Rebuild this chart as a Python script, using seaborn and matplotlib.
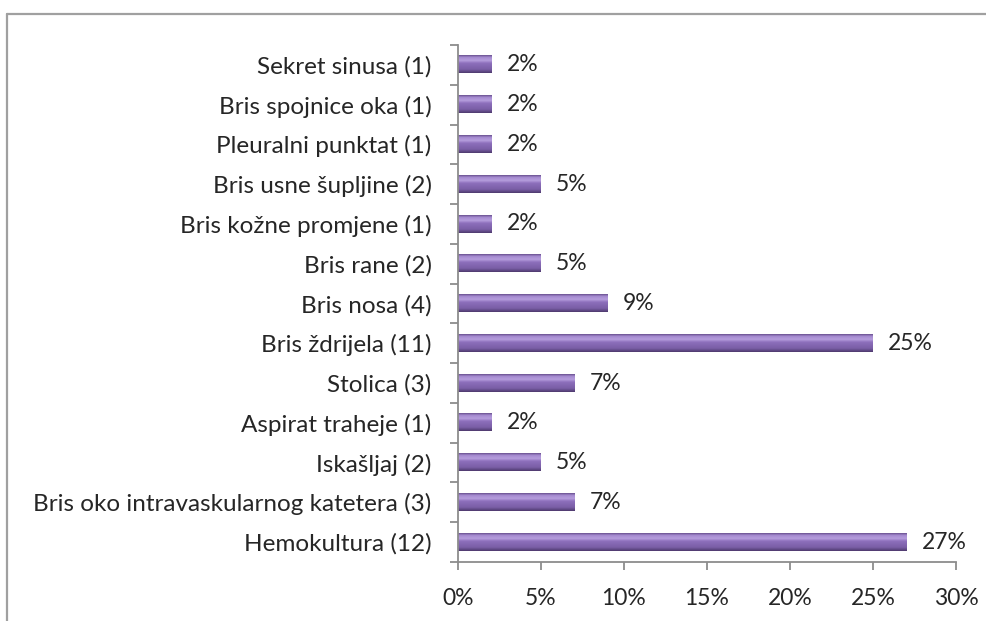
import matplotlib
matplotlib.use('Agg')
import matplotlib.pyplot as plt
import seaborn as sns
import numpy as np
from matplotlib.colors import LinearSegmentedColormap
from matplotlib.lines import Line2D

# data (top to bottom as in the chart)
categories = [
    'Sekret sinusa (1)',
    'Bris spojnice oka (1)',
    'Pleuralni punktat (1)',
    'Bris usne šupljine (2)',
    'Bris kožne promjene (1)',
    'Bris rane (2)',
    'Bris nosa (4)',
    'Bris ždrijela (11)',
    'Stolica (3)',
    'Aspirat traheje (1)',
    'Iskašljaj (2)',
    'Bris oko intravaskularnog katetera (3)',
    'Hemokultura (12)',
]
values = [2, 2, 2, 5, 2, 5, 9, 25, 7, 2, 5, 7, 27]
value_labels = ['2%', '2%', '2%', '5%', '2%', '5%', '9%', '25%', '7%', '2%', '5%', '7%', '27%']
x_ticks = [0, 5, 10, 15, 20, 25, 30]
x_tick_labels = ['0%', '5%', '10%', '15%', '20%', '25%', '30%']

sns.set_theme(style='white')
plt.rcParams['font.family'] = ['Lato', 'DejaVu Sans']

fig = plt.figure(figsize=(9.87, 6.21), dpi=100)
ax = fig.add_axes([0.464, 0.095, 0.5045, 0.8325])

sns.barplot(x=values, y=categories, orient='h', color='#8064a2',
            width=0.43, edgecolor='none', ax=ax)

# bevelled look: vertical gradient on each bar
bevel = LinearSegmentedColormap.from_list('bevel', [
    (0.0, '#6a5190'), (0.12, '#a58bd0'), (0.3, '#b59ddc'),
    (0.45, '#8d6fbc'), (0.8, '#7a5ea6'), (1.0, '#4e3a6e')])
grad = np.linspace(0, 1, 64).reshape(-1, 1)
for p in ax.patches:
    x0, y0, w, h = p.get_x(), p.get_y(), p.get_width(), p.get_height()
    ax.imshow(grad, cmap=bevel, aspect='auto', origin='upper',
              extent=(x0, x0 + w, y0 + h, y0), zorder=2)
    p.set_facecolor('none')

ax.set_xlim(0, 30)
ax.set_ylim(len(categories) - 0.5, -0.5)
ax.set_xticks(x_ticks)
ax.set_xticklabels(x_tick_labels)

ax.bar_label(ax.containers[0], labels=value_labels, padding=11, fontsize=16.5)

for side in ['top', 'right']:
    ax.spines[side].set_visible(False)
for side in ['left', 'bottom']:
    ax.spines[side].set_color('#8c8c8c')
    ax.spines[side].set_linewidth(1.3)

ax.tick_params(axis='x', direction='out', length=6, width=1.3, color='#8c8c8c',
               labelsize=16.5, pad=13, bottom=True)
ax.tick_params(axis='y', which='major', length=0, labelsize=17.5, pad=19)
ax.set_yticks(np.arange(-0.5, len(categories)), minor=True)
ax.tick_params(axis='y', which='minor', direction='out', length=6, width=1.3,
               color='#8c8c8c', left=True)
ax.set_xlabel('')
ax.set_ylabel('')

# chart frame (partially cropped in the original)
fig.add_artist(Line2D([7.5 / 987, 1], [1 - 13.5 / 621] * 2, transform=fig.transFigure,
                      color='#a0a0a0', lw=1.6))
fig.add_artist(Line2D([7.5 / 987] * 2, [0, 1 - 13.5 / 621], transform=fig.transFigure,
                      color='#a0a0a0', lw=1.6))

fig.savefig('out.png', dpi=100)
